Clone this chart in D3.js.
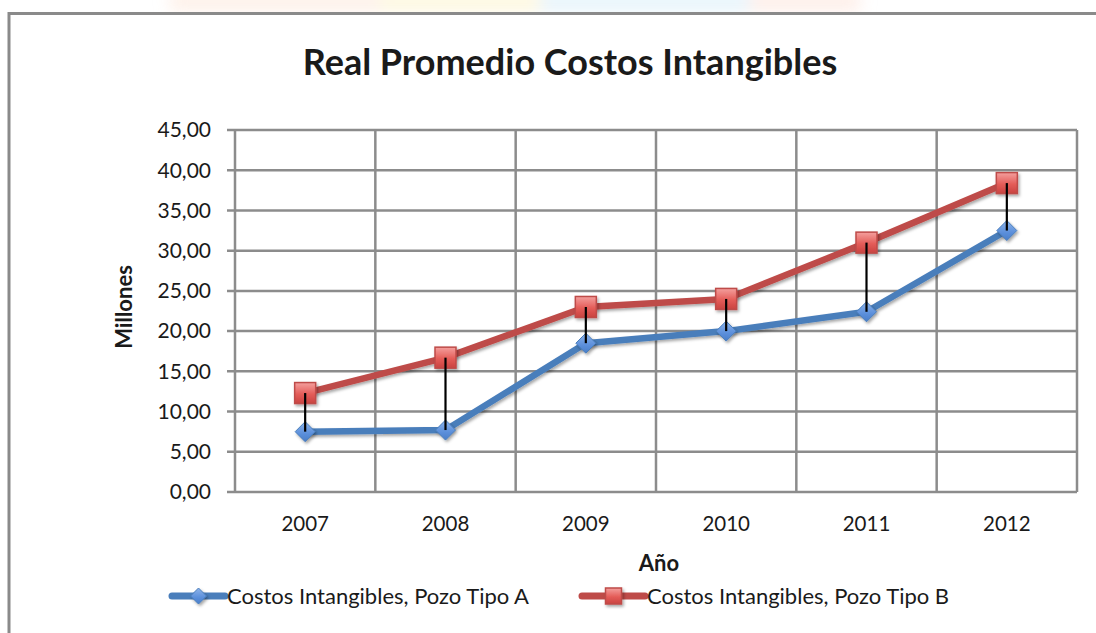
<!DOCTYPE html>
<html>
<head>
<meta charset="utf-8">
<script src="https://cdn.jsdelivr.net/npm/d3@7"></script>
<style>
  html, body { margin: 0; padding: 0; background: #fff; }
  svg { display: block; }
  text { font-family: Lato, "Open Sans", sans-serif; fill: #1a1a1a; }
</style>
</head>
<body>
<svg id="chart" width="1096" height="633"></svg>
<script>
// Chart data
const years = ["2007", "2008", "2009", "2010", "2011", "2012"];
const pozoA = [7.5, 7.7, 18.5, 20.0, 22.4, 32.5];
const pozoB = [12.3, 16.7, 23.0, 24.0, 31.0, 38.4];
const yTicks = [0, 5, 10, 15, 20, 25, 30, 35, 40, 45];
const seriesNames = ["Costos Intangibles, Pozo Tipo A", "Costos Intangibles, Pozo Tipo B"];
const seriesColors = ["#4a7ebb", "#be4b48"];

const svg = d3.select("#chart");
const W = 1096, H = 633;
const plot = { left: 235, top: 130, right: 1077, bottom: 492 };

const defs = svg.append("defs");
const shadow = defs.append("filter").attr("id", "shadow")
  .attr("x", "-50%").attr("y", "-50%").attr("width", "200%").attr("height", "200%");
shadow.append("feDropShadow").attr("dx", 1.5).attr("dy", 2).attr("stdDeviation", 1.6)
  .attr("flood-color", "#000").attr("flood-opacity", 0.35);
const soft = defs.append("filter").attr("id", "soft")
  .attr("x", "-50%").attr("y", "-200%").attr("width", "200%").attr("height", "500%");
soft.append("feGaussianBlur").attr("stdDeviation", 8);

const gradB = defs.append("linearGradient").attr("id", "gradB")
  .attr("x1", 0).attr("y1", 0).attr("x2", 0).attr("y2", 1);
gradB.append("stop").attr("offset", "0%").attr("stop-color", "#f4a09e");
gradB.append("stop").attr("offset", "55%").attr("stop-color", "#e45c58");
gradB.append("stop").attr("offset", "100%").attr("stop-color", "#c94340");
const gradA = defs.append("linearGradient").attr("id", "gradA")
  .attr("x1", 0).attr("y1", 0).attr("x2", 0).attr("y2", 1);
gradA.append("stop").attr("offset", "0%").attr("stop-color", "#8fb4ea");
gradA.append("stop").attr("offset", "60%").attr("stop-color", "#5b8fdb");
gradA.append("stop").attr("offset", "100%").attr("stop-color", "#4a7ec8");

// Faint coloured band above the chart frame
const band = svg.append("g").attr("filter", "url(#soft)").attr("opacity", 0.55);
band.append("rect").attr("x", 170).attr("y", -10).attr("width", 220).attr("height", 22).attr("fill", "#fde6d8");
band.append("rect").attr("x", 380).attr("y", -10).attr("width", 180).attr("height", 22).attr("fill", "#fdf3c8");
band.append("rect").attr("x", 540).attr("y", -10).attr("width", 220).attr("height", 22).attr("fill", "#d6ecf8");
band.append("rect").attr("x", 750).attr("y", -10).attr("width", 110).attr("height", 22).attr("fill", "#fde2d8");

// Chart frame
svg.append("rect").attr("x", 0).attr("y", 12).attr("width", W + 20).attr("height", H + 20)
  .attr("fill", "#fff");
svg.append("path")
  .attr("d", `M9,${H + 10} L9,13.5 L${W + 10},13.5`)
  .attr("fill", "none").attr("stroke", "#8a8a8a").attr("stroke-width", 3);

const x = d3.scaleBand().domain(years).range([plot.left, plot.right]);
const y = d3.scaleLinear().domain([0, 45]).range([plot.bottom, plot.top]);

// Horizontal gridlines
svg.append("g").selectAll("line").data(yTicks).join("line")
  .attr("x1", plot.left - 8).attr("x2", plot.right)
  .attr("y1", d => y(d)).attr("y2", d => y(d))
  .attr("stroke", "#8c8c8c").attr("stroke-width", 2.5);

// Vertical gridlines at category boundaries
const bounds = years.map(d => x(d)).concat([plot.right]);
svg.append("g").selectAll("line").data(bounds).join("line")
  .attr("x1", d => d).attr("x2", d => d)
  .attr("y1", plot.top).attr("y2", plot.bottom)
  .attr("stroke", "#8c8c8c").attr("stroke-width", 2.5);

// Y tick labels
const fmt = v => d3.format(".2f")(v).replace(".", ",");
svg.append("g").selectAll("text").data(yTicks).join("text")
  .attr("x", plot.left - 24).attr("y", d => y(d))
  .attr("dy", "0.35em").attr("text-anchor", "end")
  .attr("font-size", 21).text(fmt);

// X tick labels
svg.append("g").selectAll("text").data(years).join("text")
  .attr("x", d => x(d) + x.bandwidth() / 2).attr("y", 531)
  .attr("text-anchor", "middle").attr("font-size", 20.5).text(d => d);

// Axis titles
svg.append("text").attr("x", 659).attr("y", 571).attr("text-anchor", "middle")
  .attr("font-size", 22).attr("font-weight", "bold").text("Año");
svg.append("text").attr("transform", "translate(132,307) rotate(-90)")
  .attr("text-anchor", "middle").attr("font-size", 22).attr("font-weight", "bold").text("Millones");

// Title
svg.append("text").attr("x", 570).attr("y", 75).attr("text-anchor", "middle")
  .attr("font-size", 36).attr("font-weight", "bold").text("Real Promedio Costos Intangibles");

const cx = (d, i) => x(years[i]) + x.bandwidth() / 2;
const line = d3.line().x((d, i) => cx(d, i)).y(d => y(d));

// Series lines
[pozoA, pozoB].forEach((vals, s) => {
  svg.append("path").datum(vals).attr("d", line)
    .attr("fill", "none").attr("stroke", seriesColors[s]).attr("stroke-width", 6.5)
    .attr("stroke-linejoin", "round").attr("stroke-linecap", "round")
    .attr("filter", "url(#shadow)");
});

// Markers
const diamond = (g, px, py, r) => g.append("path")
  .attr("d", `M${px},${py - r} L${px + r},${py} L${px},${py + r} L${px - r},${py} Z`)
  .attr("fill", "url(#gradA)").attr("stroke", "#4a7ebb").attr("stroke-width", 1)
  .attr("filter", "url(#shadow)");
const square = (g, px, py, r) => g.append("rect")
  .attr("x", px - r).attr("y", py - r).attr("width", 2 * r).attr("height", 2 * r)
  .attr("fill", "url(#gradB)").attr("stroke", "#be4b48").attr("stroke-width", 1.5)
  .attr("filter", "url(#shadow)");

const mk = svg.append("g");
pozoA.forEach((v, i) => diamond(mk, cx(v, i), y(v), 10));
pozoB.forEach((v, i) => square(mk, cx(v, i), y(v), 10.5));

// High-low lines between the two series
svg.append("g").selectAll("line").data(years).join("line")
  .attr("x1", (d, i) => cx(d, i)).attr("x2", (d, i) => cx(d, i))
  .attr("y1", (d, i) => y(pozoB[i])).attr("y2", (d, i) => y(pozoA[i]))
  .attr("stroke", "#000").attr("stroke-width", 2.2);

// Legend
const legend = svg.append("g");
const legendItems = [
  { x0: 172, x1: 225, tx: 227 },
  { x0: 582, x1: 645, tx: 647 }
];
legendItems.forEach((it, s) => {
  const ly = 596;
  legend.append("line").attr("x1", it.x0).attr("x2", it.x1).attr("y1", ly).attr("y2", ly)
    .attr("stroke", seriesColors[s]).attr("stroke-width", 7).attr("stroke-linecap", "round");
  const mx = (it.x0 + it.x1) / 2;
  if (s === 0) diamond(legend, mx, ly, 8);
  else square(legend, mx, ly, 8);
  legend.append("text").attr("x", it.tx).attr("y", ly).attr("dy", "0.35em")
    .attr("font-size", 22).text(seriesNames[s]);
});
</script>
</body>
</html>
